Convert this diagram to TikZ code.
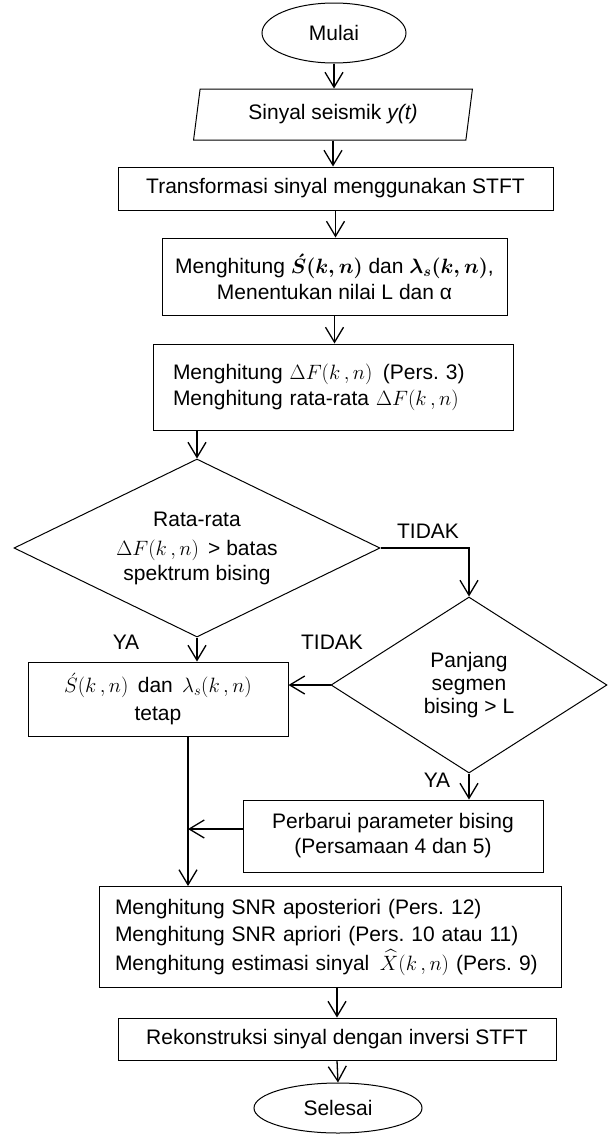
\documentclass[tikz,border=0pt]{standalone}
\usepackage{amsmath}
\usepackage{fontspec}
\setmainfont{Liberation Sans}
\usetikzlibrary{shapes.geometric,arrows.meta}
\frenchspacing

\begin{document}
\begin{tikzpicture}[x=1pt, y=-1pt,
    font=\fontsize{21}{27}\selectfont,
    terminal/.style={draw, ellipse, line width=1pt, inner sep=0pt},
    io/.style={draw, trapezium, trapezium left angle=78, trapezium right angle=102,
        trapezium stretches=true, line width=1pt, inner sep=0pt},
    proses/.style={draw, rectangle, line width=1pt, inner sep=0pt, align=center},
    keputusan/.style={draw, diamond, aspect=2, line width=1pt, inner sep=0pt, align=center},
    panah/.style={-{Straight Barb[length=15pt,width=18pt]}, line width=1.3pt}]
    \useasboundingbox (0,0) rectangle (608,1135);

    % Blok
    \node[terminal, minimum width=144pt, minimum height=60pt] (mulai) at (334,33) {Mulai};
    \node[io, minimum width=279pt, minimum height=51pt] (sinyal) at (333,114.5) {Sinyal seismik \textit{y(t)}};
    \node[proses, minimum width=435pt, minimum height=43pt] (transformasi) at (335.5,188.5)
        {Transformasi sinyal menggunakan STFT};
    \node[proses, minimum width=345pt, minimum height=77pt] (hitungS) at (334.5,276.5)
        {Menghitung $\boldsymbol{\acute{S}(k,n)}$ dan $\boldsymbol{\lambda_{s}(k,n)}$,\\[-1pt]
         Menentukan nilai L dan α};
    \node[proses, minimum width=360pt, minimum height=86pt, text width=320pt, align=left] (hitungF) at (333,387)
        {Menghitung $\Delta F(k\,,n)$ \,(Pers. 3)\\[-1pt]
         Menghitung rata-rata $\Delta F(k\,,n)$};
    \node[keputusan, minimum width=366pt, minimum height=178pt] (cek1) at (197,548)
        {Rata-rata\\[2pt] $\Delta F(k\,,n)$ \,> batas\\[-2pt] spektrum bising};
    \node[keputusan, minimum width=276pt, minimum height=176pt] (cek2) at (469,685)
        {Panjang\\[-4pt] segmen\\[-4pt] bising > L};
    \node[proses, minimum width=260pt, minimum height=74pt] (tetap) at (158,699)
        {$\acute{S}(k\,,n)$ \,dan \,$\lambda_{s}(k\,,n)$\\[1pt] tetap};
    \node[proses, minimum width=300pt, minimum height=72pt] (perbarui) at (393,836)
        {Perbarui parameter bising\\[-2pt] (Persamaan 4 dan 5)};
    \node[proses, minimum width=462pt, minimum height=101pt, text width=430pt, align=left] (snr) at (330,937)
        {Menghitung SNR aposteriori (Pers. 12)\\
         Menghitung SNR apriori (Pers. 10 atau 11)\\[2pt]
         Menghitung estimasi sinyal \,$\widehat{X}(k\,,n)$ (Pers. 9)};
    \node[proses, minimum width=438pt, minimum height=42pt] (rekon) at (337,1039)
        {Rekonstruksi sinyal dengan inversi STFT};
    \node[terminal, minimum width=168pt, minimum height=50pt] (selesai) at (338,1108) {Selesai};
    \coordinate (gabung) at (188,829);

    % Label cabang
    \node (tidak1) at (428,531) {TIDAK};
    \node (ya1) at (126,642) {YA};
    \node (tidak2) at (332,642) {TIDAK};
    \node (ya2) at (437,780) {YA};

    % Panah utama
    \draw[panah] (mulai.south) -- (mulai.south |- sinyal.north);
    \draw[panah] (sinyal.south) -- (sinyal.south |- transformasi.north);
    \draw[panah] (transformasi.south) -- (transformasi.south |- hitungS.north);
    \draw[panah] (hitungS.south) -- (hitungS.south |- hitungF.north);
    \draw[panah] (cek1.north |- hitungF.south) -- (cek1.north);

    % Cabang keputusan
    \draw[panah] (cek1.east) -| (cek2.north);
    \draw[panah] (cek1.south) -- (cek1.south |- tetap.north);
    \draw[panah] (cek2.west) -- (cek2.west -| tetap.east);
    \draw[panah] (cek2.south) -- (cek2.south |- perbarui.north);
    \draw[panah] (perbarui.west |- gabung) -- (gabung);
    \draw[panah] (gabung |- tetap.south) -- (gabung |- snr.north);

    % Akhir
    \draw[panah] (rekon.north |- snr.south) -- (rekon.north);
    \draw[panah] (rekon.south) -- (selesai.north);
\end{tikzpicture}
\end{document}
